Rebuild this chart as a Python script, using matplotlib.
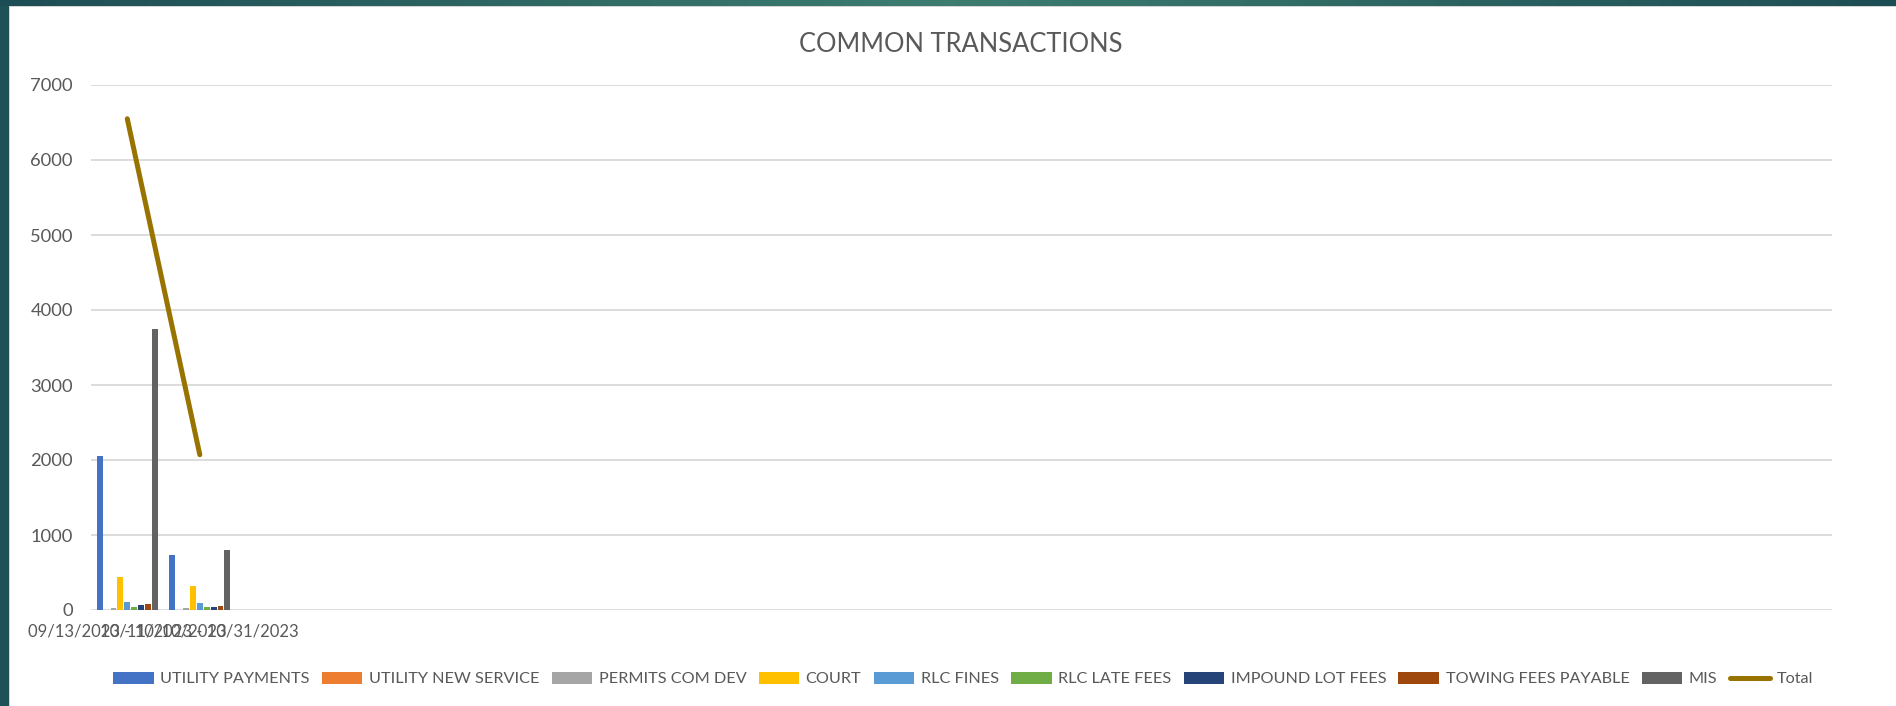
import matplotlib.pyplot as plt
import numpy as np
from matplotlib.patches import Rectangle

plt.rcParams['font.family'] = ['Lato', 'DejaVu Sans']

# categories on the axis (only the first two periods hold data)
periods = ['09/13/2023 - 10/10/2023', '10/11/2023 - 10/31/2023']
n_slots = 24

series_names = ['UTILITY PAYMENTS', 'UTILITY NEW SERVICE', 'PERMITS COM DEV', 'COURT',
                'RLC FINES', 'RLC LATE FEES', 'IMPOUND LOT FEES', 'TOWING FEES PAYABLE', 'MIS']
utility_payments = [2050, 730]
utility_new_service = [5, 4]
permits_com_dev = [25, 25]
court = [440, 316]
rlc_fines = [107, 93]
rlc_late_fees = [40, 36]
impound_lot_fees = [71, 40]
towing_fees_payable = [84, 53]
mis = [3750, 797]
total = [6550, 2070]

series_vals = [utility_payments, utility_new_service, permits_com_dev, court, rlc_fines,
               rlc_late_fees, impound_lot_fees, towing_fees_payable, mis]
colors = ['#4472C4', '#ED7D31', '#A5A5A5', '#FFC000', '#5B9BD5',
          '#70AD47', '#264478', '#9E480E', '#636363']
line_color = '#997300'
txt = '#595959'

W, H = 1896, 706
fig = plt.figure(figsize=(W / 100, H / 100), dpi=100)
fig.patch.set_facecolor('#1f5257')

# white chart area with light grey edge
fig.patches.append(Rectangle((9 / W, 0), 1, 1 - 5 / H, transform=fig.transFigure,
                             facecolor='#d4d4d4', edgecolor='none', zorder=-2))
fig.patches.append(Rectangle((10 / W, 0), 1, 1 - 7 / H, transform=fig.transFigure,
                             facecolor='white', edgecolor='none', zorder=-1))

# top strip gradient
strip = fig.add_axes([0, 1 - 6 / H, 1, 6 / H])
grad = np.linspace(0, 1, 256)
grad = 1 - np.abs(grad - 0.5) * 2
strip.imshow(grad[None, :], aspect='auto', cmap=plt.matplotlib.colors.LinearSegmentedColormap.from_list(
    'tl', ['#1d4d54', '#3d7d70']), extent=[0, 1, 0, 1])
strip.axis('off')

ax = fig.add_axes([91 / W, 1 - 610 / H, (1832 - 91) / W, (610 - 85) / H])
ax.set_facecolor('none')

x = np.arange(len(periods))
group = 0.855
slot = group / len(series_vals)
handles = []
for j, (name, vals, c) in enumerate(zip(series_names, series_vals, colors)):
    off = (j - (len(series_vals) - 1) / 2) * slot
    b = ax.bar(x + off, vals, width=slot * 0.85, color=c, label=name, zorder=3)
    handles.append(b)

ln, = ax.plot(x, total, color=line_color, lw=3.6, solid_capstyle='round', label='Total', zorder=4)
handles.append(ln)

ax.set_xlim(-0.5, n_slots - 0.5)
ax.set_ylim(0, 7000)
ax.set_yticks(np.arange(0, 7001, 1000))
ax.set_xticks(x)
ax.set_xticklabels(periods)
ax.yaxis.grid(True, color='#d9d9d9', lw=1.3, zorder=0)
ax.set_axisbelow(True)
for s in ax.spines.values():
    s.set_visible(False)
ax.tick_params(axis='y', length=0, pad=13, labelsize=13.2, labelcolor=txt)
ax.tick_params(axis='x', length=0, pad=10, labelsize=12, labelcolor=txt)

fig.text(961 / W, 1 - 44 / H, 'COMMON TRANSACTIONS', ha='center', va='center',
         fontsize=18.4, color=txt)

fig.legend(handles=handles, loc='center', bbox_to_anchor=(963 / W, 1 - 679 / H), ncol=10,
           frameon=False, fontsize=11.7, labelcolor=txt, handlelength=2.5, handleheight=0.75,
           handletextpad=0.4, columnspacing=0.75)

fig.savefig('out.png', dpi=100, facecolor=fig.get_facecolor())
